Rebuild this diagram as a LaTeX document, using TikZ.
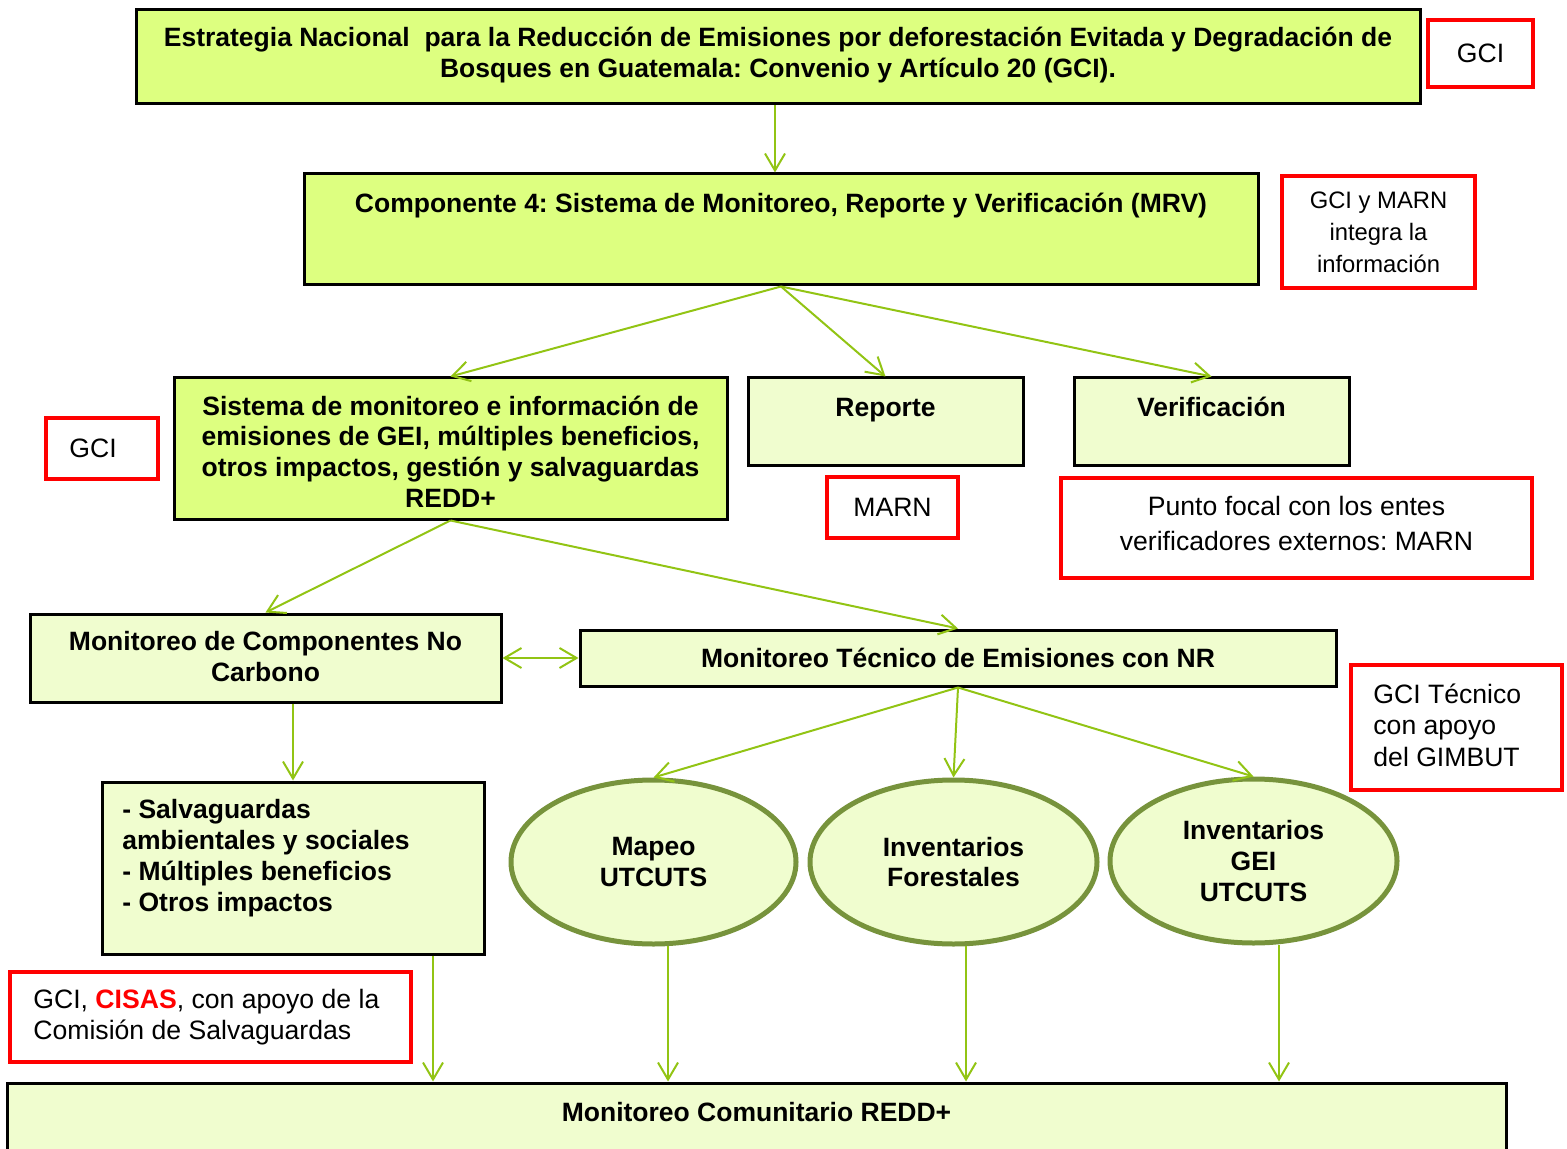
\documentclass[tikz,border=0pt]{standalone}
\usepackage{fontspec}
\setmainfont{Liberation Sans}
\usetikzlibrary{arrows.meta,shapes.geometric}
\definecolor{limeA}{RGB}{221,255,128}
\definecolor{limeB}{RGB}{240,253,207}
\definecolor{arr}{RGB}{146,196,20}
\definecolor{olivegr}{RGB}{119,147,60}
\definecolor{redb}{RGB}{255,0,0}
\frenchspacing
\begin{document}
\begin{tikzpicture}[x=0.5pt,y=-0.5pt,
  bfnt/.style={font=\fontsize{13.25}{15.4}\selectfont\bfseries},
  rfnt/.style={font=\fontsize{13.3}{15.75}\selectfont},
  box/.style={draw=black, line width=1.5pt, rectangle, inner sep=0pt, align=center, bfnt},
  boxA/.style={box, fill=limeA},
  boxB/.style={box, fill=limeB},
  redbox/.style={draw=redb, line width=2pt, fill=white, rectangle, inner sep=0pt, align=center, rfnt},
  oval/.style={ellipse, draw=olivegr, line width=2.5pt, fill=limeB, inner sep=0pt, align=center, bfnt},
  txt/.style={inner sep=0pt, align=center},
  conn/.style={draw=arr, line width=1pt, -{Straight Barb[length=8.5pt,width=10pt]}},
  dconn/.style={draw=arr, line width=1pt, {Straight Barb[length=8.5pt,width=10pt]}-{Straight Barb[length=8.5pt,width=10pt]}},
]
\useasboundingbox (0,0) rectangle (1567,1149);

% top level
\node[boxA, minimum width=642pt, minimum height=47pt] (b1) at (778,57) {};
\node[txt, bfnt] (t1) at (778,55)
  {Estrategia Nacional\ \ para la Reducción de Emisiones por deforestación Evitada y Degradación de\\Bosques en Guatemala: Convenio y Artículo 20 (GCI).};
\node[redbox, minimum width=52.5pt, minimum height=33.5pt] (r1) at (1480.5,53.5) {GCI};

\node[boxA, minimum width=477pt, minimum height=55.5pt] (b2) at (781,229.5) {};
\node[txt, bfnt] (t2) at (781,206) {Componente 4: Sistema de Monitoreo, Reporte y Verificación (MRV)};
\node[redbox, minimum width=96.5pt, minimum height=56pt, font=\fontsize{11.9}{16}\selectfont] (r2) at (1378.5,232)
  {GCI y MARN\\integra la\\información};

% second level
\node[boxA, minimum width=276.5pt, minimum height=70.5pt] (sis) at (450.5,448.5) {};
\node[txt, bfnt] (tsis) at (450.5,451.5)
  {Sistema de monitoreo e información de\\emisiones de GEI, múltiples beneficios,\\otros impactos, gestión y salvaguardas\\REDD+};
\node[redbox, minimum width=56pt, minimum height=30.5pt] (r3) at (102,448.5) {};
\node[txt, rfnt] (t3) at (93,448.5) {GCI};

\node[boxB, minimum width=137.5pt, minimum height=44pt] (rep) at (885.5,422) {};
\node[txt, bfnt] (trep) at (885.5,410) {Reporte};
\node[redbox, minimum width=65.5pt, minimum height=30.5pt] (r4) at (892.5,507.5) {MARN};

\node[boxB, minimum width=137.5pt, minimum height=44pt] (ver) at (1211.5,422) {};
\node[txt, bfnt] (tver) at (1211.5,407) {Verificación};
\node[redbox, minimum width=235.5pt, minimum height=50pt] (r5) at (1296.5,528) {};
\node[txt, font=\fontsize{13.3}{17.5}\selectfont] (t5) at (1296.5,523)
  {Punto focal con los entes\\verificadores externos: MARN};

% third level
\node[boxB, minimum width=235.5pt, minimum height=44pt] (mcomp) at (265.5,658) {};
\node[txt, bfnt] (tmcomp) at (265.5,656.5) {Monitoreo de Componentes No\\Carbono};
\node[boxB, minimum width=378pt, minimum height=28pt] (mtec) at (958,658)
  {Monitoreo Técnico de Emisiones con NR};
\node[redbox, minimum width=105.5pt, minimum height=62.5pt] (r6) at (1456.5,727.5) {};
\node[txt, rfnt, align=left, anchor=west] (t6) at (1373,725) {GCI Técnico\\con apoyo\\del GIMBUT};

\node[boxB, minimum width=191pt, minimum height=86pt] (salv) at (293,868) {};
\node[txt, font=\fontsize{13.25}{15.5}\selectfont\bfseries, align=left, anchor=west] (tsalv) at (122,858.5)
  {- Salvaguardas\\ambientales y sociales\\- Múltiples beneficios\\- Otros impactos};

\node[oval, minimum width=142.5pt, minimum height=82pt] (map) at (653.5,862) {Mapeo\\UTCUTS};
\node[oval, minimum width=143.5pt, minimum height=82pt] (fore) at (953.5,862) {Inventarios\\Forestales};
\node[oval, minimum width=143.5pt, minimum height=82pt] (gei) at (1253.5,861) {Inventarios\\GEI\\UTCUTS};

\node[redbox, minimum width=200.5pt, minimum height=45pt] (r7) at (210.5,1017) {};
\node[txt, rfnt, align=left, anchor=west] (t7) at (33,1017)
  {GCI, {\color{redb}\bfseries CISAS}, con apoyo de la\\Comisión de Salvaguardas};

\node[boxB, minimum width=749.5pt, minimum height=46pt] (mcom) at (756.5,1129) {};
\node[txt, bfnt] (tmcom) at (756.5,1112) {Monitoreo Comunitario REDD+};

% connectors
\draw[conn] ([xshift=-1.5pt]b1.south) -- ([xshift=-1.5pt]b1.south |- b2.north);
\draw[conn] (b2.south) -- (sis.north);
\draw[conn] (b2.south) -- (rep.north);
\draw[conn] (b2.south) -- (ver.north);
\draw[conn] (sis.south) -- (mcomp.north);
\draw[conn] (sis.south) -- (mtec.north);
\draw[dconn] (mcomp.east) -- (mtec.west);
\draw[conn] (mtec.south) -- (map.north);
\draw[conn] (mtec.south) -- (fore.north);
\draw[conn] (mtec.south) -- (gei.north);
\draw[conn] (salv.north |- mcomp.south) -- (salv.north);
\draw[conn] ([xshift=70pt]salv.south) -- ([xshift=70pt]salv.south |- mcom.north);
\draw[conn] ([xshift=7.25pt,yshift=0.5pt]map.south) -- ([xshift=7.25pt]map.south |- mcom.north);
\draw[conn] ([xshift=6.25pt,yshift=0.5pt]fore.south) -- ([xshift=6.25pt]fore.south |- mcom.north);
\draw[conn] ([xshift=12.75pt,yshift=0.5pt]gei.south) -- ([xshift=12.75pt]gei.south |- mcom.north);
\end{tikzpicture}
\end{document}
